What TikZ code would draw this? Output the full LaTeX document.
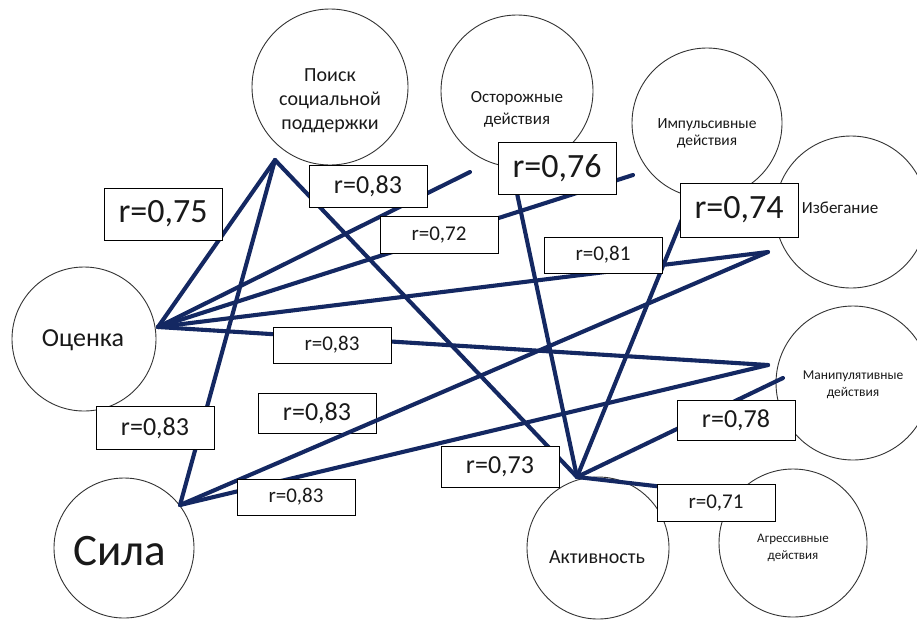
\documentclass[tikz,border=0pt]{standalone}
\usepackage{fontspec}
\setmainfont{Carlito}
\definecolor{navy}{RGB}{20,40,98}
\begin{document}
\begin{tikzpicture}[x=1pt,y=-1pt,
 circ/.style={circle, draw=black!80, line width=0.9pt, inner sep=0pt},
 lbl/.style={align=center, text=black!90, inner sep=0pt},
 rbox/.style={draw=black, line width=1pt, fill=white, text=black!90, inner sep=0pt, minimum width=118pt},
 fbig/.style={font=\fontsize{34}{40}\selectfont},
 fmid/.style={font=\fontsize{26}{30}\selectfont},
 fsml/.style={font=\fontsize{21}{25}\selectfont},
 link/.style={draw=navy, line width=4.1pt, line cap=round, line join=round}]
\useasboundingbox (0,0) rectangle (917,619);
\fill[white] (0,0) rectangle (917,619);

% circles
\node[circ, minimum size=156pt] (poisk) at (330,87) {};
\node[circ, minimum size=152pt] (ostor) at (517,91) {};
\node[circ, minimum size=150pt] (impul) at (707,123) {};
\node[circ, minimum size=152pt] (izbeg) at (851,212) {};
\node[circ, minimum size=154pt] (manip) at (853,383) {};
\node[circ, minimum size=148pt] (agres) at (793,543) {};
\node[circ, minimum size=142pt] (aktiv) at (598,548) {};
\node[circ, minimum size=144pt] (ocenk) at (84,339) {};
\node[circ, minimum size=140pt] (sila) at (124,548) {};

% texts in circles
\node[lbl, font=\fontsize{20}{24}\selectfont] (tpoisk) at (330,101) {Поиск\\социальной\\поддержки};
\node[lbl, font=\fontsize{17}{22}\selectfont] (tostor) at (517,109) {Осторожные\\действия};
\node[lbl, font=\fontsize{15.5}{17}\selectfont] (timpul) at (707,133) {Импульсивные\\действия};
\node[lbl, font=\fontsize{17}{20}\selectfont] (tizbeg) at (840,208) {Избегание};
\node[lbl, font=\fontsize{13.5}{17}\selectfont] (tmanip) at (853,385) {Манипулятивные\\действия};
\node[lbl, font=\fontsize{13}{17}\selectfont] (tagres) at (793,548) {Агрессивные\\действия};
\node[lbl, font=\fontsize{20}{24}\selectfont] (taktiv) at (597,557) {Активность};
\node[lbl, font=\fontsize{26}{30}\selectfont] (tocenk) at (83,340) {Оценка};
\node[lbl, font=\fontsize{45}{50}\selectfont] (tsila) at (120,551) {Сила};

% box drawn under the lines
\node[rbox, fmid, minimum height=40pt] (b8) at (317,413) {r=0,83};

% hubs and free ends
\coordinate (hO) at (158,327);
\coordinate (hP) at (275,160);
\coordinate (hS) at (180,505);
\coordinate (hA) at (577,477);
\coordinate (hIz) at (768,252);
\coordinate (hM) at (768,365);
\coordinate (eOst) at (470,172);
\coordinate (eImp) at (633,175);
\coordinate (eOst2) at (511,165);
\coordinate (eIz2) at (687,207);
\coordinate (eM2) at (783,378);
\coordinate (eAg) at (690,490);

% connectors
\draw[link] (hO) -- (hP);
\draw[link] (hO) -- (eOst);
\draw[link] (hO) -- (eImp);
\draw[link] (hO) -- (hIz);
\draw[link] (hO) -- (hM);
\draw[link] (hS) -- (hP);
\draw[link] (hS) -- (hIz);
\draw[link] (hS) -- (hM);
\draw[link] (hP) -- (hA);
\draw[link] (hA) -- (eOst2);
\draw[link] (hA) -- (eIz2);
\draw[link] (hA) -- (eM2);
\draw[link] (hA) -- (eAg);

% labels
\node[rbox, fbig, minimum height=52pt] (b1) at (163,214) {r=0,75};
\node[rbox, fmid, minimum height=42pt] (b2) at (368,186) {r=0,83};
\node[rbox, fsml, minimum height=37pt] (b3) at (439,235) {r=0,72};
\node[rbox, fbig, minimum height=52pt] (b4) at (557,168) {r=0,76};
\node[rbox, fsml, minimum height=36pt] (b5) at (603,255) {r=0,81};
\node[rbox, fbig, minimum height=54pt] (b6) at (739,210) {r=0,74};
\node[rbox, fsml, minimum height=36pt] (b7) at (332,345) {r=0,83};
\node[rbox, fmid, minimum height=43pt] (b9) at (155,428) {r=0,83};
\node[rbox, fmid, minimum height=41pt] (b10) at (500,467) {r=0,73};
\node[rbox, fsml, minimum height=36pt] (b11) at (296,497) {r=0,83};
\node[rbox, fmid, minimum height=40pt] (b12) at (736,420) {r=0,78};
\node[rbox, fsml, minimum height=37pt] (b13) at (716,503) {r=0,71};
\end{tikzpicture}
\end{document}
